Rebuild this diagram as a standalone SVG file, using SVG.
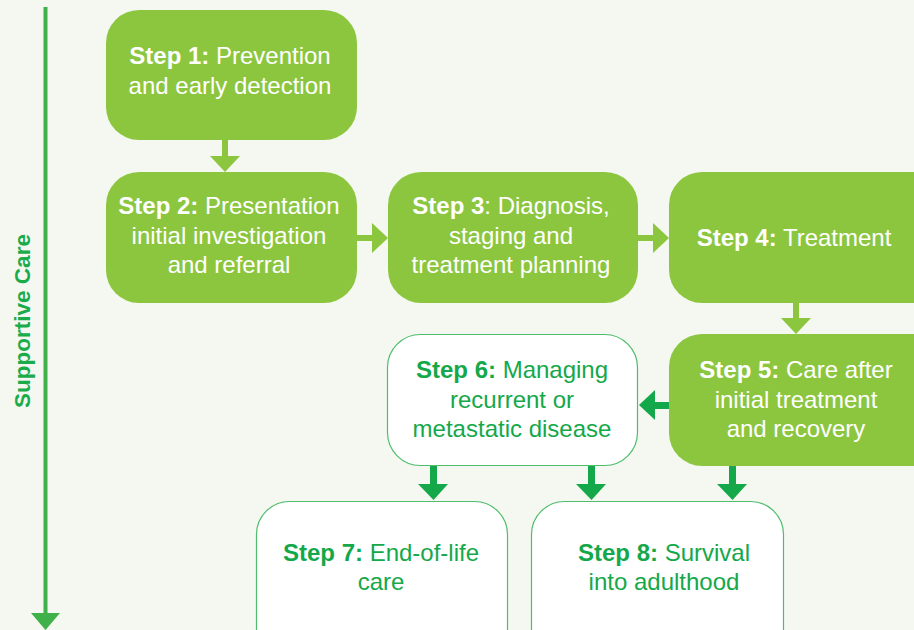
<svg xmlns="http://www.w3.org/2000/svg" width="914" height="630" viewBox="0 0 914 630">
<style>
.fill{fill:#8cc63f}
.wbox{fill:#ffffff;stroke:#4dbd6e;stroke-width:1.2}
text{font-family:"Liberation Sans",Arial,sans-serif;font-size:24px;text-anchor:middle}
.wt{fill:#ffffff}
.gt{fill:#14a84a}
.b{font-weight:bold}
.la{fill:#8cc63f}
.da{fill:#14a84a}
</style>
<rect width="914" height="630" fill="#f5f8f0"/>
<g id="supportive-care">
<rect x="43.5" y="7" width="4" height="608" fill="#3fb04a"/>
<polygon points="31,613 60,613 45.5,630" fill="#3fb04a"/>
<text transform="translate(30,321) rotate(-90)" class="gt b" style="font-size:22.5px;fill:#1aab4b">Supportive Care</text>
</g>
<g id="connectors">
<rect class="la" x="222" y="140" width="6" height="18"/><polygon class="la" points="210,156 240,156 225,172"/>
<rect class="la" x="357" y="235" width="16" height="6"/><polygon class="la" points="372,223 372,253 388,238"/>
<rect class="la" x="638" y="235" width="16" height="6"/><polygon class="la" points="653,223 653,253 669,238"/>
<rect class="la" x="793" y="303" width="6" height="16"/><polygon class="la" points="781,318 811,318 796,334"/>
<rect class="da" x="654" y="402" width="15" height="7"/><polygon class="da" points="655,390 655,420 639,405"/>
<rect class="da" x="430" y="466" width="7" height="19"/><polygon class="da" points="418,484 448,484 433.5,500"/>
<rect class="da" x="588" y="466" width="7" height="19"/><polygon class="da" points="576,484 606,484 591.5,500"/>
<rect class="da" x="729" y="466" width="7" height="19"/><polygon class="da" points="717,484 747,484 732.5,500"/>
</g>
<g id="step1">
<rect class="fill" x="106" y="10" width="251" height="130" rx="33"/>
<text class="wt" x="230" y="64"><tspan class="b">Step 1:</tspan> Prevention</text>
<text class="wt" x="230" y="94">and early detection</text>
</g>
<g id="step2">
<rect class="fill" x="106" y="172" width="251" height="131" rx="33"/>
<text class="wt" x="229" y="214"><tspan class="b">Step 2:</tspan> Presentation</text>
<text class="wt" x="229" y="244">initial investigation</text>
<text class="wt" x="229" y="273">and referral</text>
</g>
<g id="step3">
<rect class="fill" x="388" y="172" width="250" height="131" rx="33"/>
<text class="wt" x="511" y="214"><tspan class="b">Step 3</tspan>: Diagnosis,</text>
<text class="wt" x="511" y="244">staging and</text>
<text class="wt" x="511" y="273">treatment planning</text>
</g>
<g id="step4">
<rect class="fill" x="669" y="172" width="280" height="131" rx="33"/>
<text class="wt" x="794" y="246"><tspan class="b">Step 4:</tspan> Treatment</text>
</g>
<g id="step5">
<rect class="fill" x="669" y="334" width="280" height="132" rx="33"/>
<text class="wt" x="796" y="378"><tspan class="b">Step 5:</tspan> Care after</text>
<text class="wt" x="796" y="408">initial treatment</text>
<text class="wt" x="796" y="437">and recovery</text>
</g>
<g id="step6">
<rect class="wbox" x="387.5" y="334.5" width="250" height="131" rx="33"/>
<text class="gt" x="512" y="378"><tspan class="b">Step 6:</tspan> Managing</text>
<text class="gt" x="512" y="408">recurrent or</text>
<text class="gt" x="512" y="437">metastatic disease</text>
</g>
<g id="step7">
<rect class="wbox" x="256.5" y="501.5" width="251" height="160" rx="33"/>
<text class="gt" x="381" y="561"><tspan class="b">Step 7:</tspan> End-of-life</text>
<text class="gt" x="381" y="590">care</text>
</g>
<g id="step8">
<rect class="wbox" x="531.5" y="501.5" width="252" height="160" rx="33"/>
<text class="gt" x="664" y="561"><tspan class="b">Step 8:</tspan> Survival</text>
<text class="gt" x="664" y="590">into adulthood</text>
</g>
</svg>
